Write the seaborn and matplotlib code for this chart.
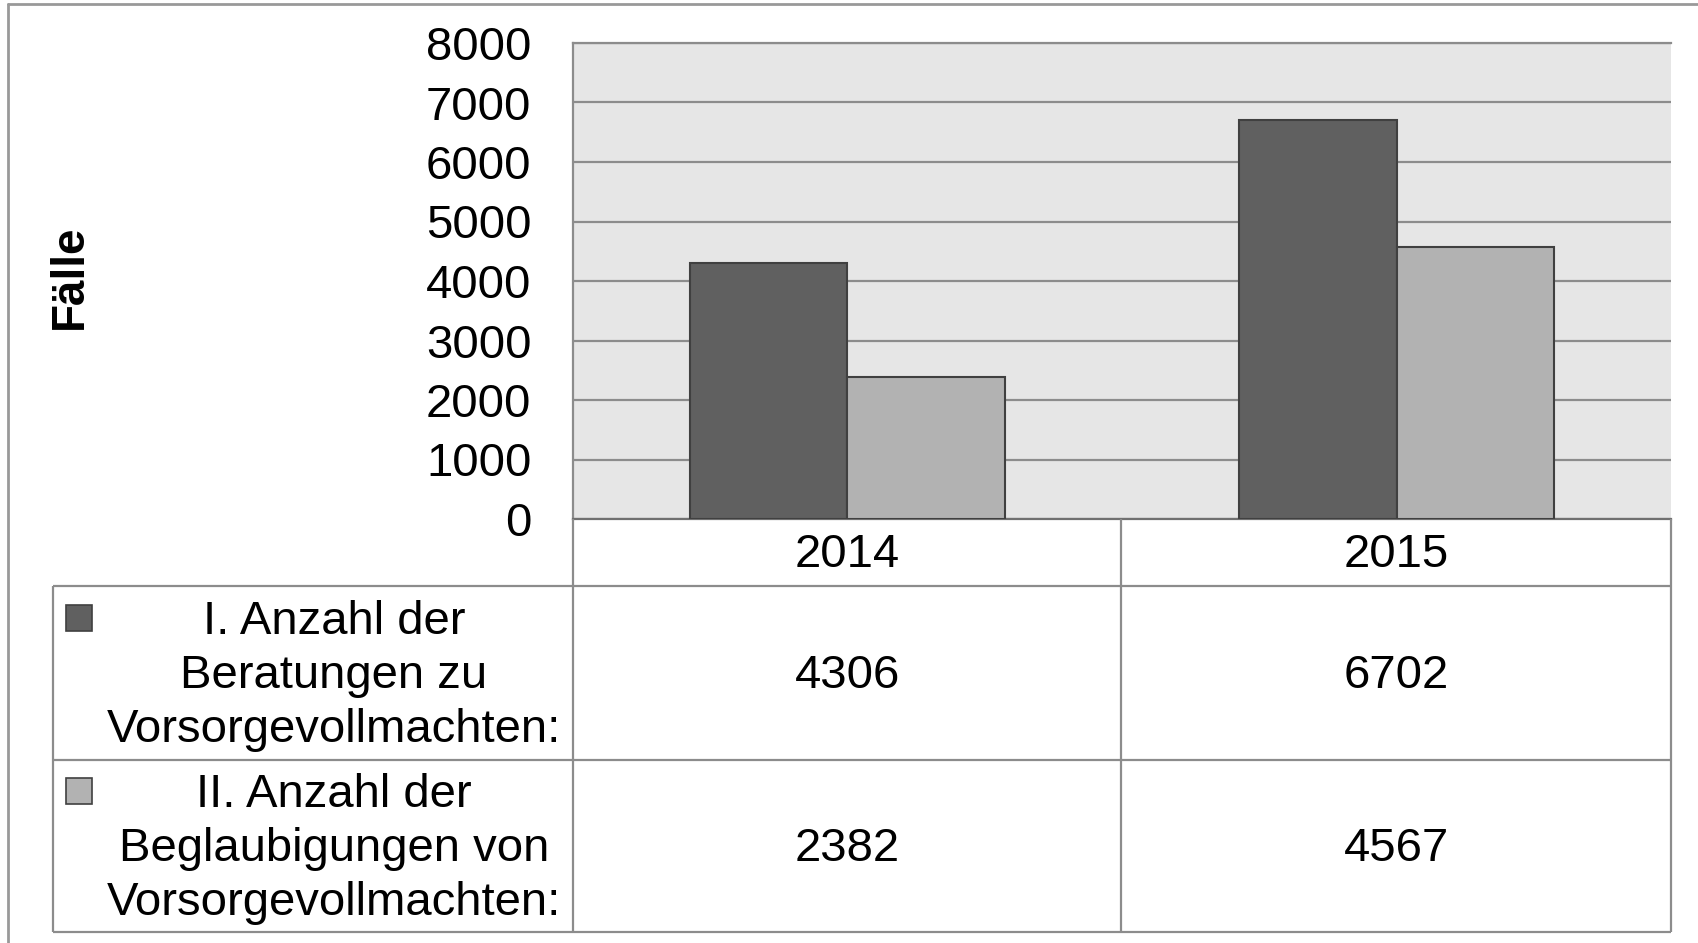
import pandas as pd
import matplotlib.pyplot as plt
import matplotlib.transforms as mtransforms
from matplotlib.patches import Rectangle
import seaborn as sns

years = ['2014', '2015']
series = ['I. Anzahl der\nBeratungen zu\nVorsorgevollmachten:',
          'II. Anzahl der\nBeglaubigungen von\nVorsorgevollmachten:']
beratungen = [4306, 6702]
beglaubigungen = [2382, 4567]
colors = ['#606060', '#b2b2b2']
y_ticks = [0, 1000, 2000, 3000, 4000, 5000, 6000, 7000, 8000]

df = pd.DataFrame({
    'year': years * 2,
    'series': [series[0]] * 2 + [series[1]] * 2,
    'value': beratungen + beglaubigungen,
})

sns.set_style('white')
plt.rcParams['font.family'] = ['Liberation Sans', 'DejaVu Sans']
plt.rcParams['text.color'] = 'black'
plt.rcParams['ytick.color'] = 'black'
plt.rcParams['ytick.labelcolor'] = 'black'
FS = 34
GRID = '#8c8c8c'

W, H = 1699, 943
fig = plt.figure(figsize=(W / 100, H / 100), dpi=100)

# plot area in pixel layout
px_l, px_r, px_t, px_b = 573, 1671, 43, 519
ax = fig.add_axes([px_l / W, 1 - px_b / H, (px_r - px_l) / W, (px_b - px_t) / H])
ax.set_facecolor('#e6e6e6')

sns.barplot(data=df, x='year', y='value', hue='series', palette=colors,
            width=0.573, edgecolor='#404040', linewidth=1.5, legend=False,
            saturation=1, ax=ax, zorder=3)

ax.set_xlim(-0.5, 1.5)
ax.set_ylim(0, 8000)
ax.set_yticks(y_ticks)
ax.set_yticklabels([str(t) for t in y_ticks], fontsize=FS, color='black')
ax.tick_params(axis='y', length=0, pad=30)
ax.set_xticks([])
ax.set_xlabel('')
ax.set_ylabel('')
ax.yaxis.grid(True, color=GRID, linewidth=1.6, zorder=1)
ax.set_axisbelow(True)
ax.spines['right'].set_visible(False)
ax.spines['top'].set_color(GRID)
ax.spines['top'].set_linewidth(1.6)
ax.spines['left'].set_color(GRID)
ax.spines['left'].set_linewidth(1.6)
ax.spines['bottom'].set_color('#707070')
ax.spines['bottom'].set_linewidth(1.6)

# data table text, placed on the category scale
blend = mtransforms.blended_transform_factory(ax.transData, ax.transAxes)
def ay(py):
    return (px_b - py) / (px_b - px_t)

for i, yr in enumerate(years):
    ax.text(i, ay(555), yr, transform=blend, ha='center', va='center', fontsize=FS, clip_on=False)
    ax.text(i, ay(676), str(beratungen[i]), transform=blend, ha='center', va='center', fontsize=FS, clip_on=False)
    ax.text(i, ay(849), str(beglaubigungen[i]), transform=blend, ha='center', va='center', fontsize=FS, clip_on=False)

# overlay in pixel coords for table grid, legend keys, frame
ov = fig.add_axes([0, 0, 1, 1])
ov.set_xlim(0, W)
ov.set_ylim(H, 0)
ov.axis('off')
ov.patch.set_alpha(0)

col_mid = 1121
tbl_l, row1, row2, tbl_b = 53, 586, 760, 932
lk = dict(color=GRID, linewidth=1.6, solid_capstyle='butt')
ov.plot([tbl_l, px_r], [row1, row1], **lk)
ov.plot([tbl_l, px_r], [row2, row2], **lk)
ov.plot([tbl_l, px_r], [tbl_b, tbl_b], **lk)
ov.plot([tbl_l, tbl_l], [row1, tbl_b], **lk)
ov.plot([px_l, px_l], [px_b, tbl_b], **lk)
ov.plot([col_mid, col_mid], [px_b, tbl_b], **lk)
ov.plot([px_r, px_r], [px_b, tbl_b], **lk)

# outer frame (left and top visible)
ov.plot([8, 8], [4, H], color='#999999', linewidth=2)
ov.plot([8, W], [4, 4], color='#999999', linewidth=2)

# row labels with legend keys
for label, c, yk, yc in [(series[0], colors[0], 605, 676), (series[1], colors[1], 778, 849)]:
    ov.add_patch(Rectangle((66, yk), 26, 26, facecolor=c, edgecolor='#404040', linewidth=1.2))
    ov.text(334, yc, label, ha='center', va='center', fontsize=FS, multialignment='center',
            linespacing=1.3)

fig.text(70 / W, 1 - 277 / H, 'Fälle', rotation=90, ha='center', va='center',
         fontsize=33, fontweight='bold')

fig.savefig('out.png', dpi=100)
